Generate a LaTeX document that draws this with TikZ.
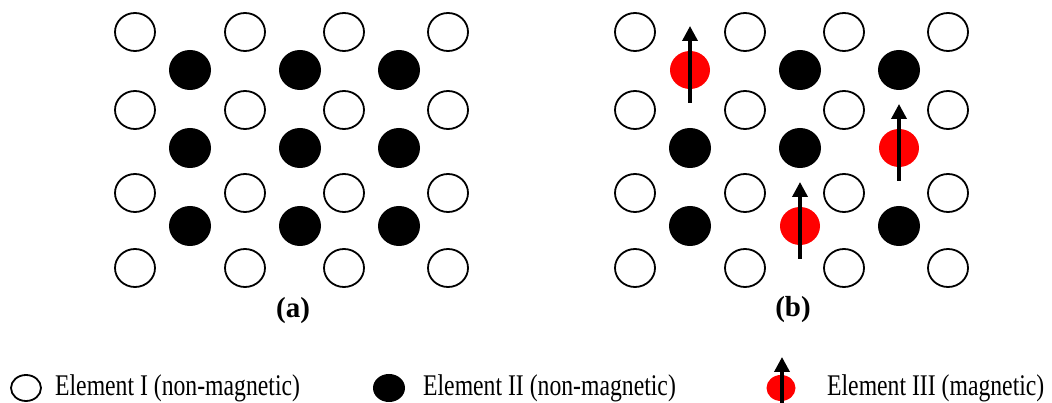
\documentclass[tikz,border=0pt]{standalone}
\usepackage{fontspec}
\setmainfont{Liberation Serif}
\usetikzlibrary{arrows.meta}

\begin{document}
\begin{tikzpicture}[x=1pt, y=1pt,
    whiteatom/.style={draw=black, line width=1.8pt, fill=white},
    blackatom/.style={fill=black},
    redatom/.style={fill=red},
    spin/.style={line width=3.5pt, -{Triangle[width=15pt,length=15pt]}},
    legendtext/.style={anchor=base west, inner sep=0pt, font=\fontsize{30}{34}\selectfont, xscale=0.79, transform shape},
    panellabel/.style={font=\fontsize{29}{34}\selectfont\bfseries}]
    \useasboundingbox (0,0) rectangle (1052,403);

    % Element I sites, both panels
    \foreach \px in {0,500} {
      \foreach \x in {135,245,344,448}
        \foreach \y in {371,293,210,135}
          \draw[whiteatom] (\x+\px,\y) ellipse (20 and 19);
    }

    % Panel (a): only Element II
    \foreach \x in {190,300,399}
      \foreach \y in {333,255,177}
        \fill[blackatom] (\x,\y) ellipse (21 and 20);
    \node[panellabel] (labela) at (293,92) {(a)};

    % Panel (b): Element II with some sites replaced by Element III
    \foreach \x/\y in {800/333, 899/333, 690/255, 800/255, 690/177, 899/177}
      \fill[blackatom] (\x,\y) ellipse (21 and 20);
    \foreach \x/\y in {690/333, 899/255, 800/177} {
      \fill[redatom] (\x,\y) ellipse (20 and 19);
      \draw[spin] (\x,\y-33) -- (\x,\y+44);
    }
    \node[panellabel] (labelb) at (793,93) {(b)};

    % Legend
    \draw[whiteatom] (26,15) ellipse (15 and 13);
    \node[legendtext] (legI) at (55,7) {Element I (non-magnetic)};
    \fill[blackatom] (389,15) ellipse (16 and 14);
    \node[legendtext] (legII) at (423,7) {Element II (non-magnetic)};
    \fill[redatom] (781,15) ellipse (14.5 and 13);
    \draw[spin] (782,0) -- (782,46);
    \node[legendtext] (legIII) at (827,7) {Element III (magnetic)};
\end{tikzpicture}
\end{document}
